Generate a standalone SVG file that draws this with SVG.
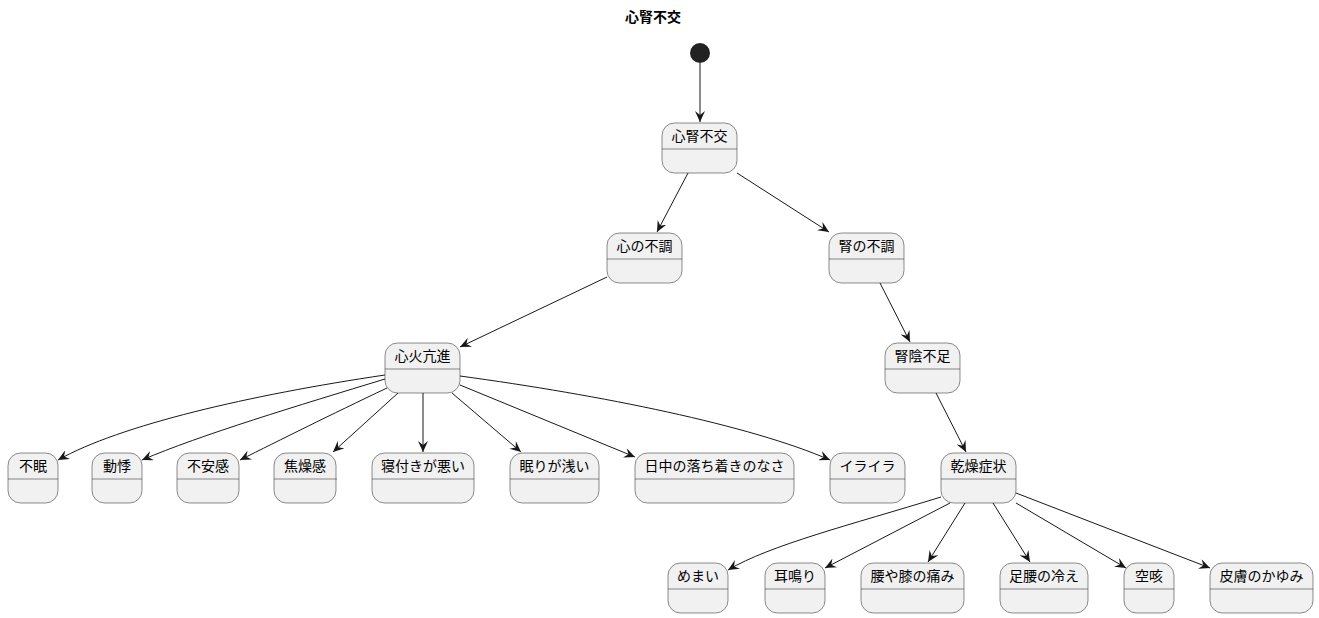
<svg xmlns="http://www.w3.org/2000/svg" width="1319" height="618" viewBox="0 0 1319 618">
<style>
.b{fill:#F1F1F1;stroke:#181818;stroke-width:0.5}
.s{stroke:#181818;stroke-width:0.5}
.t{font-family:"Noto Sans CJK JP","Liberation Sans",sans-serif;font-size:14px;fill:#000;text-anchor:middle}
.e{fill:none;stroke:#181818;stroke-width:1}
</style>
<defs>
<marker id="a" viewBox="0 0 12 10" refX="11" refY="5" markerWidth="12" markerHeight="10" markerUnits="userSpaceOnUse" orient="auto">
<path d="M0,0 L11,5 L0,10 L4,5 Z" fill="#181818"/>
</marker>
</defs>
<text x="653" y="22" class="t" style="font-weight:bold;font-size:14px">心腎不交</text>
<g id="start"><circle cx="700" cy="53" r="10" fill="#222"/></g>
<g id="connectors">
<path class="e" marker-end="url(#a)" d="M700,63 L700,122"/>
<path class="e" marker-end="url(#a)" d="M688,173 L657,232"/>
<path class="e" marker-end="url(#a)" d="M737,173 L829,232"/>
<path class="e" marker-end="url(#a)" d="M607,277 L460,347"/>
<path class="e" marker-end="url(#a)" d="M880,283 L910,342"/>
<path class="e" marker-end="url(#a)" d="M936,393 L966,452"/>
<path class="e" marker-end="url(#a)" d="M385,375 C250,395 120,425 58,460"/>
<path class="e" marker-end="url(#a)" d="M385,379 C300,405 200,435 142,460"/>
<path class="e" marker-end="url(#a)" d="M387,388 C330,415 280,440 240,460"/>
<path class="e" marker-end="url(#a)" d="M398,393 L333,452"/>
<path class="e" marker-end="url(#a)" d="M423,393 L423,452"/>
<path class="e" marker-end="url(#a)" d="M452,393 L521,452"/>
<path class="e" marker-end="url(#a)" d="M460,385 L635,457"/>
<path class="e" marker-end="url(#a)" d="M460,376 C600,395 750,425 830,460"/>
<path class="e" marker-end="url(#a)" d="M941,497 C850,525 770,545 728,570"/>
<path class="e" marker-end="url(#a)" d="M950,503 L825,568"/>
<path class="e" marker-end="url(#a)" d="M965,503 L928,562"/>
<path class="e" marker-end="url(#a)" d="M993,503 L1030,562"/>
<path class="e" marker-end="url(#a)" d="M1016,503 L1126,568"/>
<path class="e" marker-end="url(#a)" d="M1016,493 L1210,568"/>
</g>
<g id="n1"><rect class="b" x="662" y="123" width="75" height="50" rx="12.5"/><line class="s" x1="662" y1="149" x2="737" y2="149"/><text class="t" x="699.5" y="141">心腎不交</text></g>
<g id="n2"><rect class="b" x="607" y="233" width="75" height="50" rx="12.5"/><line class="s" x1="607" y1="259" x2="682" y2="259"/><text class="t" x="644.5" y="251">心の不調</text></g>
<g id="n3"><rect class="b" x="829" y="233" width="75" height="50" rx="12.5"/><line class="s" x1="829" y1="259" x2="904" y2="259"/><text class="t" x="866.5" y="251">腎の不調</text></g>
<g id="n4"><rect class="b" x="385" y="343" width="75" height="50" rx="12.5"/><line class="s" x1="385" y1="369" x2="460" y2="369"/><text class="t" x="422.5" y="361">心火亢進</text></g>
<g id="n5"><rect class="b" x="885" y="343" width="75" height="50" rx="12.5"/><line class="s" x1="885" y1="369" x2="960" y2="369"/><text class="t" x="922.5" y="361">腎陰不足</text></g>
<g id="n6"><rect class="b" x="941" y="453" width="75" height="50" rx="12.5"/><line class="s" x1="941" y1="479" x2="1016" y2="479"/><text class="t" x="978.5" y="471">乾燥症状</text></g>
<g id="n7"><rect class="b" x="8" y="453" width="50" height="50" rx="12.5"/><line class="s" x1="8" y1="479" x2="58" y2="479"/><text class="t" x="33" y="471">不眠</text></g>
<g id="n8"><rect class="b" x="92" y="453" width="50" height="50" rx="12.5"/><line class="s" x1="92" y1="479" x2="142" y2="479"/><text class="t" x="117" y="471">動悸</text></g>
<g id="n9"><rect class="b" x="177" y="453" width="62" height="50" rx="12.5"/><line class="s" x1="177" y1="479" x2="239" y2="479"/><text class="t" x="208" y="471">不安感</text></g>
<g id="n10"><rect class="b" x="274" y="453" width="62" height="50" rx="12.5"/><line class="s" x1="274" y1="479" x2="337" y2="479"/><text class="t" x="305" y="471">焦燥感</text></g>
<g id="n11"><rect class="b" x="372" y="453" width="102" height="50" rx="12.5"/><line class="s" x1="372" y1="479" x2="474" y2="479"/><text class="t" x="423" y="471">寝付きが悪い</text></g>
<g id="n12"><rect class="b" x="510" y="453" width="89" height="50" rx="12.5"/><line class="s" x1="510" y1="479" x2="599" y2="479"/><text class="t" x="554.5" y="471">眠りが浅い</text></g>
<g id="n13"><rect class="b" x="635" y="453" width="159" height="50" rx="12.5"/><line class="s" x1="635" y1="479" x2="794" y2="479"/><text class="t" x="714.5" y="471">日中の落ち着きのなさ</text></g>
<g id="n14"><rect class="b" x="830" y="453" width="75" height="50" rx="12.5"/><line class="s" x1="830" y1="479" x2="905" y2="479"/><text class="t" x="867.5" y="471">イライラ</text></g>
<g id="n15"><rect class="b" x="668" y="563" width="60" height="50" rx="12.5"/><line class="s" x1="668" y1="589" x2="728" y2="589"/><text class="t" x="698" y="581">めまい</text></g>
<g id="n16"><rect class="b" x="765" y="563" width="60" height="50" rx="12.5"/><line class="s" x1="765" y1="589" x2="825" y2="589"/><text class="t" x="795" y="581">耳鳴り</text></g>
<g id="n17"><rect class="b" x="861" y="563" width="103" height="50" rx="12.5"/><line class="s" x1="861" y1="589" x2="964" y2="589"/><text class="t" x="912.5" y="581">腰や膝の痛み</text></g>
<g id="n18"><rect class="b" x="1000" y="563" width="88" height="50" rx="12.5"/><line class="s" x1="1000" y1="589" x2="1088" y2="589"/><text class="t" x="1044" y="581">足腰の冷え</text></g>
<g id="n19"><rect class="b" x="1124" y="563" width="50" height="50" rx="12.5"/><line class="s" x1="1124" y1="589" x2="1174" y2="589"/><text class="t" x="1149" y="581">空咳</text></g>
<g id="n20"><rect class="b" x="1210" y="563" width="103" height="50" rx="12.5"/><line class="s" x1="1210" y1="589" x2="1313" y2="589"/><text class="t" x="1261.5" y="581">皮膚のかゆみ</text></g>
</svg>
